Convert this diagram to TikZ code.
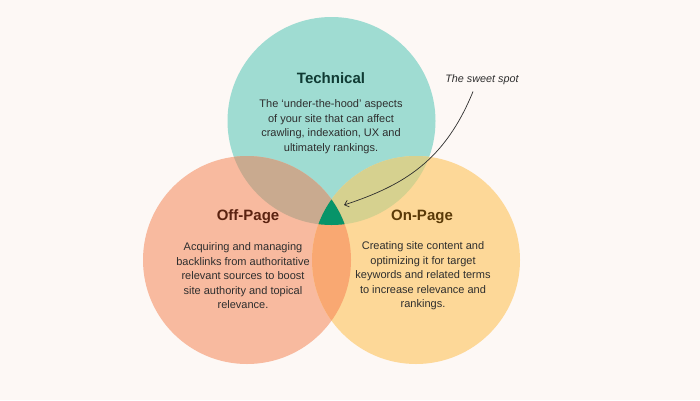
\documentclass[tikz,border=0pt]{standalone}
\usepackage{fontspec}
\setmainfont{Liberation Sans}
\usetikzlibrary{arrows.meta}
\definecolor{bg}{HTML}{FDF8F5}
\definecolor{teal}{HTML}{9FDCD2}
\definecolor{salmon}{HTML}{F8BA9F}
\definecolor{sand}{HTML}{FDD898}
\definecolor{tealsalmon}{HTML}{C9AA8F}
\definecolor{tealsand}{HTML}{D6D18F}
\definecolor{salmonsand}{HTML}{F9A872}
\definecolor{sweet}{HTML}{079469}
\definecolor{ttitle}{HTML}{0F3A33}
\definecolor{ltitle}{HTML}{5A2210}
\definecolor{rtitle}{HTML}{5A3A08}
\definecolor{body}{HTML}{2E2E2E}
\tikzset{
  ttl/.style={font=\fontsize{15}{18}\selectfont\bfseries, anchor=center},
  bodytxt/.style={font=\fontsize{11}{14.6}\selectfont, align=center, text=body, anchor=north},
}
\begin{document}
\begin{tikzpicture}[x=1pt,y=-1pt]
\useasboundingbox (0,0) rectangle (700,400);
\fill[bg] (0,0) rectangle (700,400);
\coordinate (T) at (331.5,121);
\coordinate (L) at (247,260);
\coordinate (R) at (416,260);
\def\rr{104}
\fill[teal] (T) circle (\rr);
\fill[salmon] (L) circle (\rr);
\fill[sand] (R) circle (\rr);
\begin{scope}
  \clip (T) circle (\rr);
  \fill[tealsalmon] (L) circle (\rr);
  \fill[tealsand] (R) circle (\rr);
\end{scope}
\begin{scope}
  \clip (L) circle (\rr);
  \fill[salmonsand] (R) circle (\rr);
  \clip (R) circle (\rr);
  \fill[sweet] (T) circle (\rr);
\end{scope}
\node[ttl, text=ttitle] (tt) at (331,78) {Technical};
\node[bodytxt] (tb) at (331,96) {The ‘under-the-hood’ aspects\\of your site that can affect\\crawling, indexation, UX and\\ultimately rankings.};
\node[ttl, text=ltitle] (lt) at (248,217) {Off-Page};
\node[bodytxt] (lb) at (243,239) {Acquiring and managing\\backlinks from authoritative\\relevant sources to boost\\site authority and topical\\relevance.};
\node[ttl, text=rtitle] (rt) at (422,217) {On-Page};
\node[bodytxt] (rb) at (423,238) {Creating site content and\\optimizing it for target\\keywords and related terms\\to increase relevance and\\rankings.};
\node[font=\fontsize{10.8}{12}\selectfont\itshape, text=body] (sw) at (482,80) {The sweet spot};
\coordinate (spot) at (344,205);
\draw[body, line width=0.7pt, -{Straight Barb[length=4pt,width=7pt]}] (sw.south) ++(-9,3) coordinate (s0) (s0) .. controls (445,160) and (405,185) .. (spot);
\end{tikzpicture}
\end{document}
